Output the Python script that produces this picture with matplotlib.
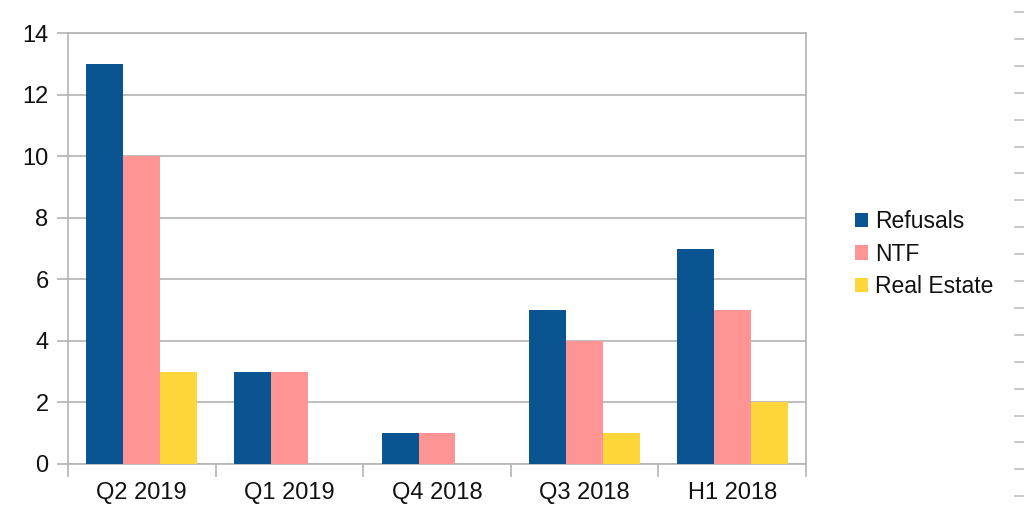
import matplotlib
matplotlib.use("Agg")
import matplotlib.pyplot as plt
from matplotlib.lines import Line2D
import numpy as np

plt.rcParams['font.family'] = ['Liberation Sans', 'DejaVu Sans']

categories = ["Q2 2019", "Q1 2019", "Q4 2018", "Q3 2018", "H1 2018"]
refusals = [13, 3, 1, 5, 7]
ntf = [10, 3, 1, 4, 5]
real_estate = [3, 0, 0, 1, 2]
series_names = ["Refusals", "NTF", "Real Estate"]
colors = ["#0a5591", "#ff9494", "#ffd63a"]

fig = plt.figure(figsize=(10.24, 5.26), dpi=100)
ax = fig.add_axes([68/1024, 1 - 464/526, (806-68)/1024, (464-33)/526])

x = np.arange(len(categories))
w = 0.25
for i, (vals, c, name) in enumerate(zip([refusals, ntf, real_estate], colors, series_names)):
    ax.bar(x + (i - 1) * w, vals, width=w, color=c, label=name, zorder=3)

ax.set_xlim(-0.5, len(categories) - 0.5)
ax.set_ylim(0, 14)
ax.set_yticks(range(0, 15, 2))
ax.yaxis.grid(True, color="#b3b3b3", linewidth=1.2, zorder=0)
for s in ax.spines.values():
    s.set_color("#b3b3b3")
    s.set_linewidth(1.2)
ax.tick_params(axis='y', length=8, width=1.2, color="#b3b3b3", labelsize=17, pad=6, labelcolor="#111111")
ax.set_xticks(x)
ax.set_xticklabels(categories)
ax.tick_params(axis='x', length=0, labelsize=17, pad=13, labelcolor="#111111")
ax.set_xticks(np.arange(-0.5, len(categories), 1), minor=True)
ax.tick_params(axis='x', which='minor', length=9, width=1.2, color="#b3b3b3")

ax.legend(loc='center left', bbox_to_anchor=(1.038, 0.487), frameon=False,
          fontsize=16.5, handlelength=0.58, handleheight=0.58, handletextpad=0.32,
          labelspacing=0.4, labelcolor="#111111")

# small dashes at the right edge
for yy in np.arange(12, 500, 26.9):
    fig.add_artist(Line2D([1015/1024, 1.0], [1 - yy/526, 1 - yy/526],
                          color="#bdbdbd", linewidth=1.2))

fig.savefig("out.png", dpi=100)
